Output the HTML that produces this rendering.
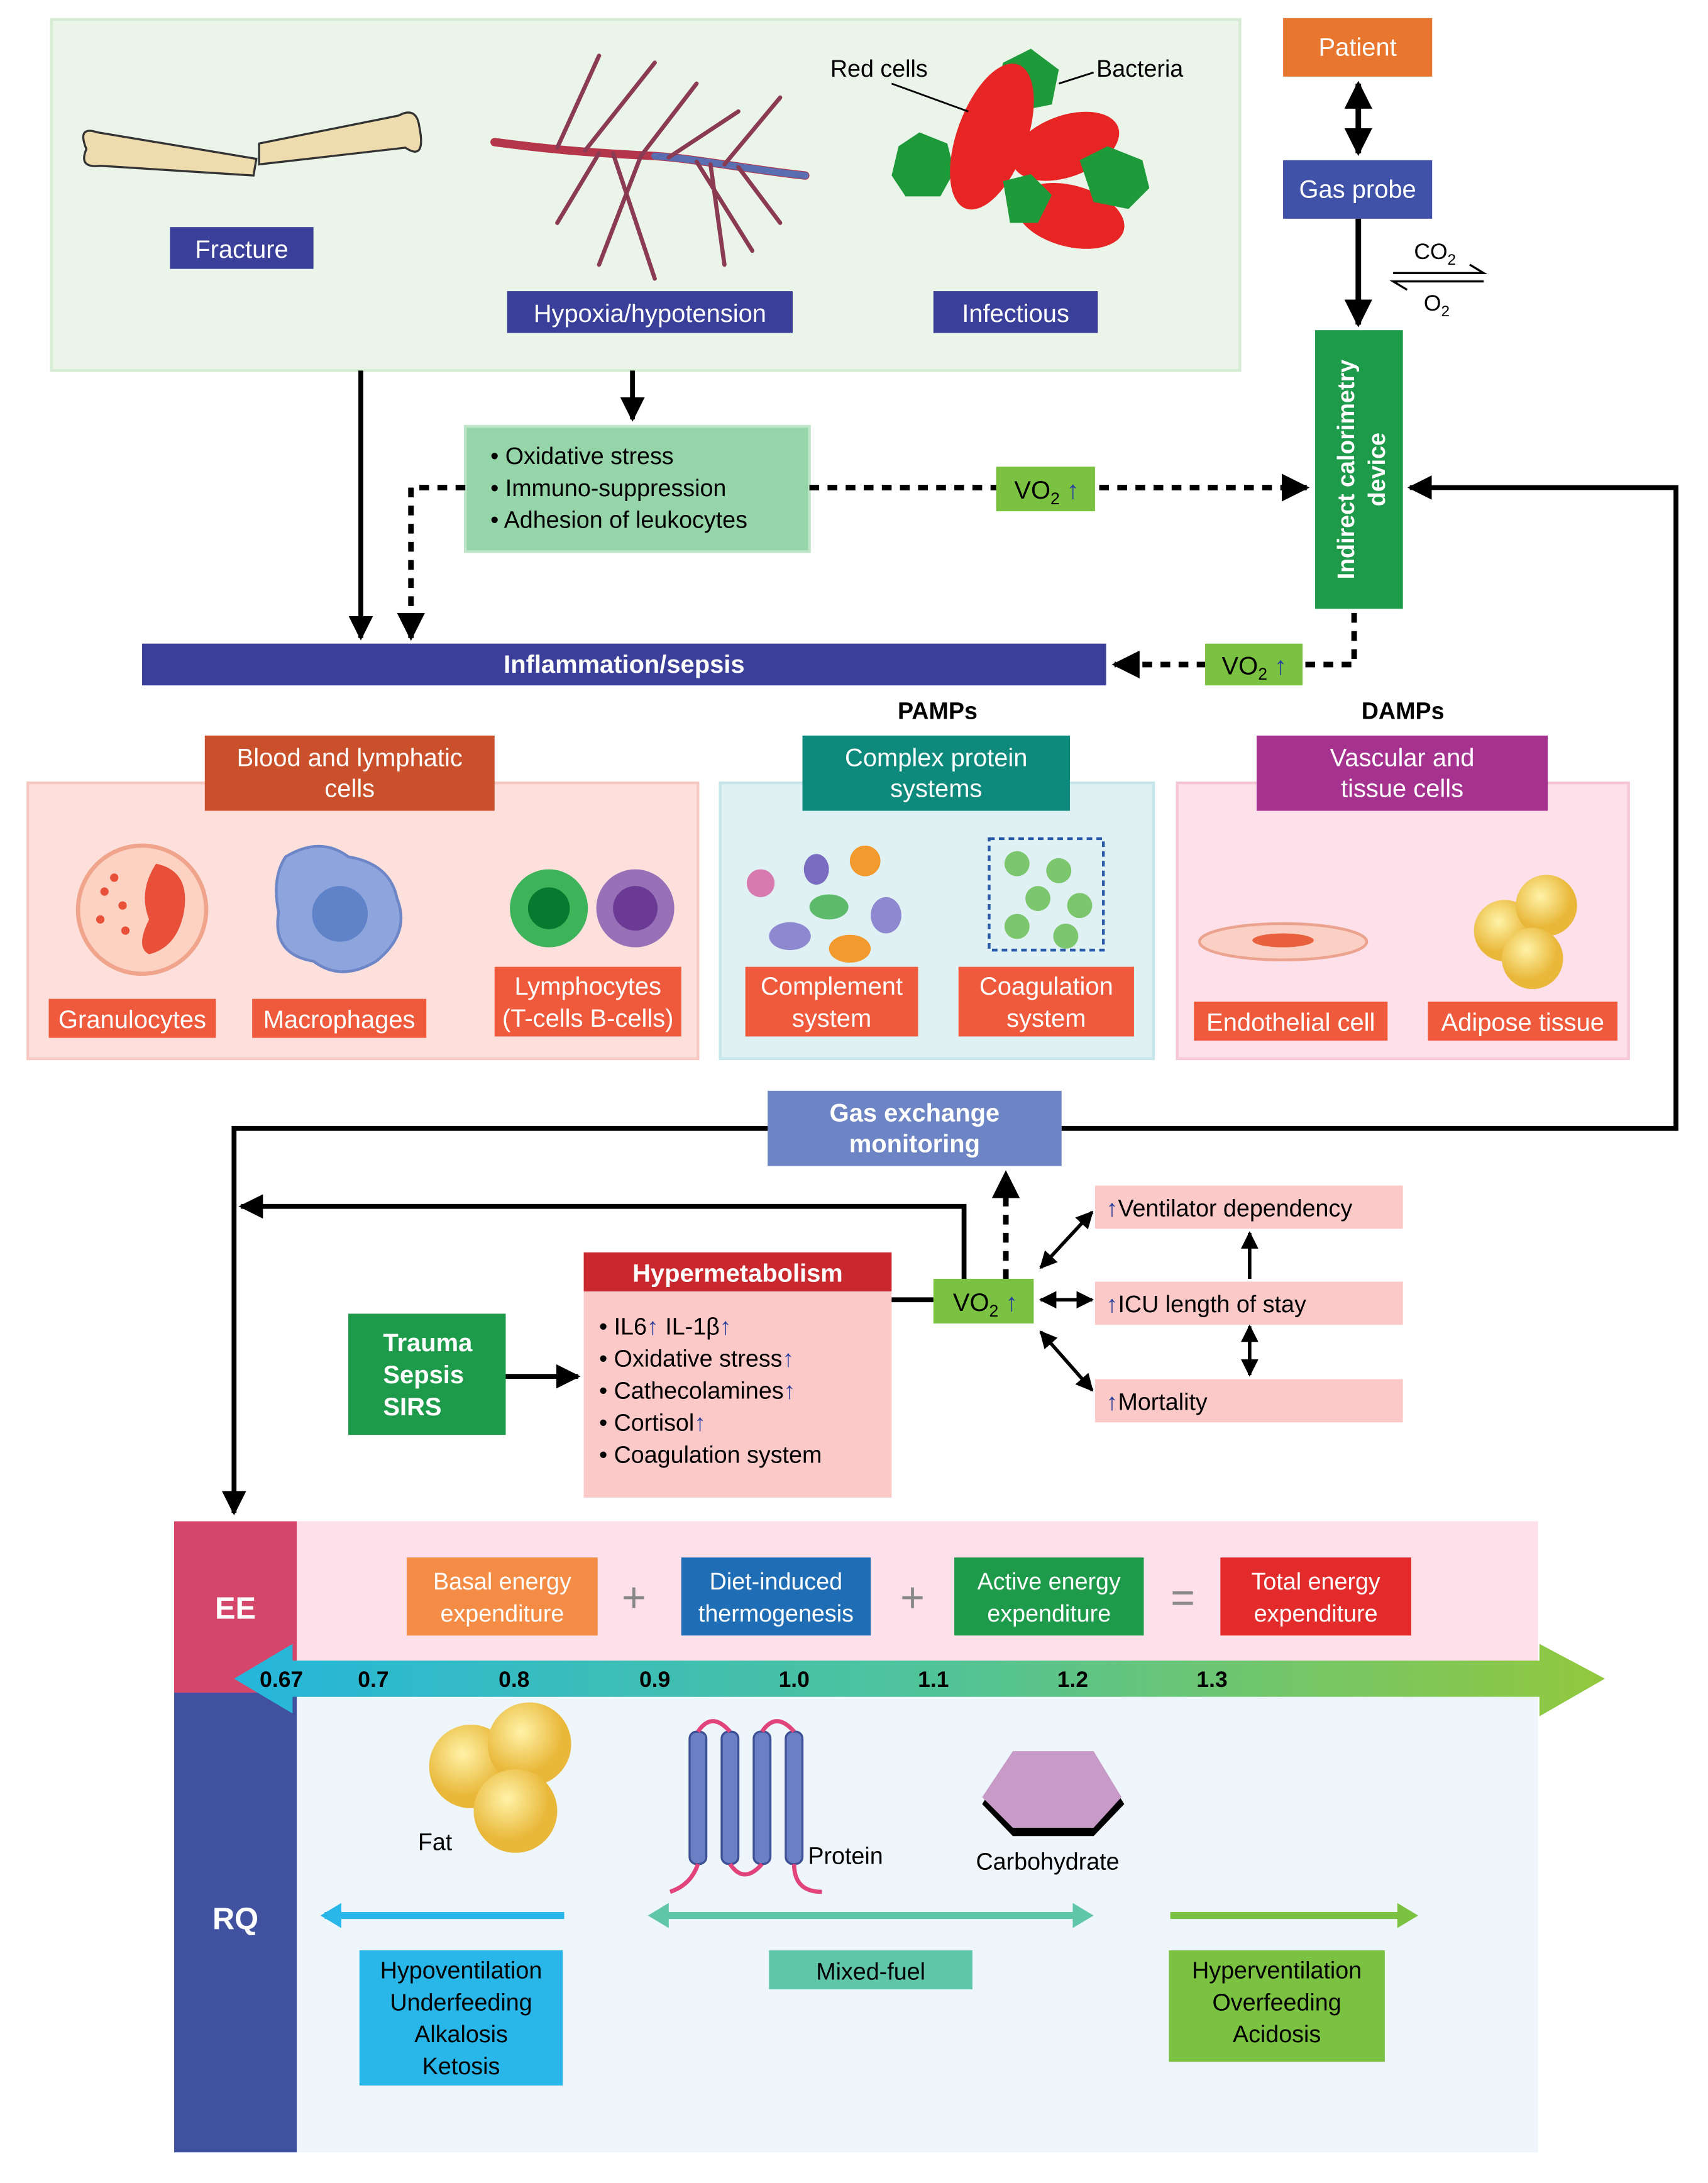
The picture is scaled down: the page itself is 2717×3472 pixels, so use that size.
<!DOCTYPE html>
<html><head><meta charset="utf-8"><style>
html,body{margin:0;padding:0;background:#fff}
svg{display:block}
text{font-family:"Liberation Sans",Arial,sans-serif}
</style></head><body>
<svg width="2717" height="3472" viewBox="0 0 1226 1567" preserveAspectRatio="none" xmlns="http://www.w3.org/2000/svg">
<defs>
<marker id="ah" viewBox="0 0 10 10" refX="9" refY="5" markerWidth="5" markerHeight="5" orient="auto-start-reverse"><path d="M0,0L10,5L0,10z" fill="#000"/></marker>
<linearGradient id="gr" x1="0" x2="1"><stop offset="0" stop-color="#25b6dc"/><stop offset="0.5" stop-color="#4fc39a"/><stop offset="1" stop-color="#92c83e"/></linearGradient>
<radialGradient id="fat" cx="0.4" cy="0.35"><stop offset="0" stop-color="#fff3a8"/><stop offset="1" stop-color="#e9b83a"/></radialGradient>
</defs>
<g font-size="18" fill="#fff">
<!-- top panel -->
<rect x="37" y="14" width="853" height="252" fill="#eaf4e8" stroke="#d6ebd3" stroke-width="2"/>
<!-- bone -->
<g fill="#efdcae" stroke="#333" stroke-width="1.5">
<path d="M70,95 q-15,-5 -8,12 q-6,14 10,12 l110,7 l2,-12 z"/>
<path d="M186,118 l105,-12 q15,10 10,-15 q-2,-15 -15,-8 l-100,20 z"/>
</g>
<rect x="122" y="163" width="103" height="30" fill="#3a3f99"/><text x="173.5" y="185" text-anchor="middle">Fracture</text>
<!-- vessels -->
<g fill="none" stroke-width="3" stroke-linecap="round">
<path d="M355,102 C400,108 430,110 470,112 C500,114 540,122 578,126" stroke="#b5364a" stroke-width="6"/>
<path d="M470,112 C500,114 540,122 578,126" stroke="#5a6db0" stroke-width="5"/>
<path d="M400,106 L430,40 M420,108 L470,45 M440,110 L470,200 M460,112 L500,60 M480,113 L530,80 M500,116 L540,180 M520,118 L560,70 M430,110 L400,160 M460,112 L430,190 M510,118 L520,190 M530,120 L560,160" stroke="#8a3a52"/>
</g>
<rect x="364" y="209" width="205" height="30" fill="#3a3f99"/><text x="466.5" y="231" text-anchor="middle">Hypoxia/hypotension</text>
<!-- cells -->
<g>
<path d="M645,105 l15,-10 l20,8 l5,20 l-10,18 l-25,0 l-10,-15z" fill="#1f9a3a"/>
<path d="M720,45 l20,-10 l20,15 l-5,25 l-25,5 l-15,-15z" fill="#1f9a3a"/>
<ellipse cx="712" cy="98" rx="25" ry="55" transform="rotate(20 712 98)" fill="#e82525"/>
<ellipse cx="765" cy="105" rx="40" ry="22" transform="rotate(-20 765 105)" fill="#e82525"/>
<ellipse cx="768" cy="155" rx="40" ry="22" transform="rotate(15 768 155)" fill="#e82525"/>
<path d="M775,115 l20,-10 l25,10 l5,20 l-15,15 l-25,-5z" fill="#1f9a3a"/>
<path d="M720,130 l20,-5 l15,15 l-10,20 l-20,0z" fill="#1f9a3a"/>
</g>
<g fill="#000" font-size="17"><text x="596" y="55">Red cells</text><text x="787" y="55">Bacteria</text></g>
<path d="M640,60 L695,80 M785,52 L760,60" stroke="#000" stroke-width="1.3"/>
<rect x="670" y="209" width="118" height="30" fill="#3a3f99"/><text x="729" y="231" text-anchor="middle">Infectious</text>
<!-- patient column -->
<rect x="921" y="13" width="107" height="42" fill="#e8762e"/><text x="974.5" y="40" text-anchor="middle">Patient</text>
<line x1="975" y1="60" x2="975" y2="110" stroke="#000" stroke-width="4" marker-start="url(#ah)" marker-end="url(#ah)"/>
<rect x="921" y="115" width="107" height="42" fill="#4052a8"/><text x="974.5" y="142" text-anchor="middle">Gas probe</text>
<line x1="975" y1="157" x2="975" y2="233" stroke="#000" stroke-width="4" marker-end="url(#ah)"/>
<g fill="#000" font-size="16"><text x="1015" y="186">CO<tspan font-size="11" dy="4">2</tspan></text><text x="1022" y="223">O<tspan font-size="11" dy="4">2</tspan></text></g>
<path d="M1000,196 L1065,196 L1055,190 M1065,202 L1000,202 L1010,208" stroke="#000" stroke-width="1.5" fill="none"/>
<rect x="944" y="237" width="63" height="200" fill="#1d9a4a"/>
<text transform="translate(972,337) rotate(-90)" text-anchor="middle" font-weight="bold" font-size="17">Indirect calorimetry</text>
<text transform="translate(994,337) rotate(-90)" text-anchor="middle" font-weight="bold" font-size="17">device</text>
<!-- arrows top -->
<line x1="259" y1="266" x2="259" y2="458" stroke="#000" stroke-width="3.5" marker-end="url(#ah)"/>
<line x1="454" y1="266" x2="454" y2="301" stroke="#000" stroke-width="3.5" marker-end="url(#ah)"/>
<rect x="334" y="306" width="247" height="90" fill="#96d4aa" stroke="#bfe5c8" stroke-width="2"/>
<g fill="#000" font-size="17"><text x="352" y="333">• Oxidative stress</text><text x="352" y="356">• Immuno-suppression</text><text x="352" y="379">• Adhesion of leukocytes</text></g>
<g stroke="#000" stroke-width="4" stroke-dasharray="7,6" fill="none">
<path d="M334,350 L295,350 L295,458" marker-end="url(#ah)"/>
<path d="M581,350 L938,350" marker-end="url(#ah)"/>
<path d="M972,440 L972,477 L800,477" marker-end="url(#ah)"/>
</g>
<rect x="715" y="335" width="71" height="32" fill="#7cc242"/><text x="728" y="358" fill="#000">VO<tspan font-size="12" dy="4">2</tspan><tspan dy="-4" fill="#2a3f9c" font-weight="bold"> ↑</tspan></text>
<path d="M762,810 L1203,810 L1203,350 L1012,350" stroke="#000" stroke-width="3.5" fill="none" marker-end="url(#ah)"/>
<rect x="102" y="462" width="692" height="30" fill="#3b3f99"/><text x="448" y="483" text-anchor="middle" font-weight="bold">Inflammation/sepsis</text>
<rect x="865" y="462" width="70" height="30" fill="#7cc242"/><text x="877" y="484" fill="#000">VO<tspan font-size="12" dy="4">2</tspan><tspan dy="-4" fill="#2a3f9c" font-weight="bold"> ↑</tspan></text>
<g fill="#000" font-weight="bold" font-size="17"><text x="673" y="516" text-anchor="middle">PAMPs</text><text x="1007" y="516" text-anchor="middle">DAMPs</text></g>
<!-- panels -->
<rect x="20" y="562" width="481" height="198" fill="#fde0dc" stroke="#f7c9c2" stroke-width="2"/>
<rect x="147" y="528" width="208" height="54" fill="#c9502a"/><text x="251" y="550" text-anchor="middle">Blood and lymphatic</text><text x="251" y="572" text-anchor="middle">cells</text>
<circle cx="102" cy="653" r="46" fill="#fcd3c3" stroke="#f0a48c" stroke-width="3"/>
<path d="M112,620 q25,5 20,35 q-5,25 -25,30 q-10,-5 0,-25 q-8,-20 5,-40z" fill="#e9503a"/>
<g fill="#e9503a"><circle cx="75" cy="640" r="3"/><circle cx="88" cy="650" r="3"/><circle cx="72" cy="660" r="3"/><circle cx="90" cy="668" r="3"/><circle cx="82" cy="630" r="3"/></g>
<path d="M205,615 q25,-15 45,0 q30,5 35,30 q10,25 -15,45 q-25,15 -45,0 q-30,-5 -25,-35 q-5,-25 5,-40z" fill="#8ea4dc" stroke="#6d86c8" stroke-width="2"/>
<circle cx="244" cy="656" r="20" fill="#5f82c8"/>
<circle cx="394" cy="652" r="28" fill="#3db35a"/><circle cx="394" cy="652" r="15" fill="#087a30"/>
<circle cx="456" cy="652" r="28" fill="#9770b8"/><circle cx="456" cy="652" r="16" fill="#6b3a95"/>
<rect x="35" y="717" width="120" height="28" fill="#ef5a3c"/><text x="95" y="738" text-anchor="middle">Granulocytes</text>
<rect x="181" y="717" width="125" height="28" fill="#ef5a3c"/><text x="243.5" y="738" text-anchor="middle">Macrophages</text>
<rect x="355" y="694" width="134" height="50" fill="#ef5a3c"/><text x="422" y="714" text-anchor="middle">Lymphocytes</text><text x="422" y="737" text-anchor="middle">(T-cells B-cells)</text>

<rect x="517" y="562" width="311" height="198" fill="#e0f1f4" stroke="#c6e6ea" stroke-width="2"/>
<rect x="576" y="528" width="192" height="54" fill="#0e8a7c"/><text x="672" y="550" text-anchor="middle">Complex protein</text><text x="672" y="572" text-anchor="middle">systems</text>
<circle cx="546" cy="634" r="10" fill="#d67ab0"/><ellipse cx="586" cy="624" rx="9" ry="11" fill="#7a6cc0"/><ellipse cx="621" cy="618" rx="11" ry="11" fill="#f29a2e"/>
<ellipse cx="595" cy="651" rx="14" ry="9" fill="#5cba6a"/><ellipse cx="567" cy="672" rx="15" ry="10" fill="#8d88d0"/><ellipse cx="636" cy="657" rx="11" ry="13" fill="#8d88d0"/><ellipse cx="610" cy="681" rx="15" ry="10" fill="#f29a2e"/>
<rect x="710" y="602" width="82" height="80" fill="none" stroke="#2b5aa8" stroke-width="2" stroke-dasharray="4,3"/>
<g fill="#7cc66e"><circle cx="730" cy="620" r="9"/><circle cx="760" cy="625" r="9"/><circle cx="745" cy="645" r="9"/><circle cx="775" cy="650" r="9"/><circle cx="730" cy="665" r="9"/><circle cx="765" cy="672" r="9"/></g>
<rect x="535" y="694" width="124" height="50" fill="#ef5a3c"/><text x="597" y="714" text-anchor="middle">Complement</text><text x="597" y="737" text-anchor="middle">system</text>
<rect x="688" y="694" width="126" height="50" fill="#ef5a3c"/><text x="751" y="714" text-anchor="middle">Coagulation</text><text x="751" y="737" text-anchor="middle">system</text>

<rect x="845" y="562" width="324" height="198" fill="#fde0e9" stroke="#f6c8d6" stroke-width="2"/>
<rect x="902" y="528" width="209" height="54" fill="#a5328f"/><text x="1006.5" y="550" text-anchor="middle">Vascular and</text><text x="1006.5" y="572" text-anchor="middle">tissue cells</text>
<ellipse cx="921" cy="676" rx="60" ry="13" fill="#fbd0c4" stroke="#eba28e" stroke-width="2"/><ellipse cx="921" cy="675" rx="22" ry="5" fill="#e9603c"/>
<circle cx="1080" cy="668" r="22" fill="url(#fat)"/><circle cx="1110" cy="650" r="22" fill="url(#fat)"/><circle cx="1100" cy="688" r="22" fill="url(#fat)"/>
<rect x="857" y="719" width="139" height="28" fill="#ef5a3c"/><text x="926.5" y="740" text-anchor="middle">Endothelial cell</text>
<rect x="1025" y="719" width="136" height="28" fill="#ef5a3c"/><text x="1093" y="740" text-anchor="middle">Adipose tissue</text>
<!-- gas exchange -->
<rect x="551" y="783" width="211" height="54" fill="#6e85c5"/><text x="656.5" y="805" text-anchor="middle" font-weight="bold">Gas exchange</text><text x="656.5" y="827" text-anchor="middle" font-weight="bold">monitoring</text>
<path d="M551,810 L168,810 L168,1086" stroke="#000" stroke-width="3.5" fill="none" marker-end="url(#ah)"/>
<path d="M692,918 L692,866 L173,866" stroke="#000" stroke-width="3.5" fill="none" marker-end="url(#ah)"/>
<line x1="722" y1="918" x2="722" y2="842" stroke="#000" stroke-width="4" stroke-dasharray="7,6" marker-end="url(#ah)"/>
<rect x="419" y="899" width="221" height="28" fill="#c8282e"/><text x="529.5" y="920" text-anchor="middle" font-weight="bold">Hypermetabolism</text>
<rect x="419" y="927" width="221" height="148" fill="#fcc9c9"/>
<g fill="#000" font-size="17"><text x="430" y="958">•  IL6<tspan fill="#2a3f9c" font-weight="bold">↑</tspan> IL-1β<tspan fill="#2a3f9c" font-weight="bold">↑</tspan></text><text x="430" y="981">•  Oxidative stress<tspan fill="#2a3f9c" font-weight="bold">↑</tspan></text><text x="430" y="1004">•  Cathecolamines<tspan fill="#2a3f9c" font-weight="bold">↑</tspan></text><text x="430" y="1027">•  Cortisol<tspan fill="#2a3f9c" font-weight="bold">↑</tspan></text><text x="430" y="1050">•  Coagulation system</text></g>
<rect x="250" y="943" width="113" height="87" fill="#1d9a4a"/>
<g font-weight="bold"><text x="275" y="970">Trauma</text><text x="275" y="993">Sepsis</text><text x="275" y="1016">SIRS</text></g>
<line x1="363" y1="988" x2="415" y2="988" stroke="#000" stroke-width="3.5" marker-end="url(#ah)"/>
<line x1="640" y1="933" x2="670" y2="933" stroke="#000" stroke-width="3.5"/>
<rect x="670" y="918" width="72" height="32" fill="#7cc242"/><text x="684" y="941" fill="#000">VO<tspan font-size="12" dy="4">2</tspan><tspan dy="-4" fill="#2a3f9c" font-weight="bold"> ↑</tspan></text>
<g stroke="#000" stroke-width="2.5" marker-start="url(#ah)" marker-end="url(#ah)">
<line x1="747" y1="910" x2="784" y2="870"/><line x1="747" y1="933" x2="784" y2="933"/><line x1="747" y1="956" x2="784" y2="998"/>
<line x1="897" y1="952" x2="897" y2="987"/></g>
<line x1="897" y1="918" x2="897" y2="885" stroke="#000" stroke-width="2.5" marker-end="url(#ah)"/>
<g font-size="17" fill="#000">
<rect x="786" y="851" width="221" height="31" fill="#fcc9c9"/><text x="794" y="873"><tspan fill="#2a3f9c" font-weight="bold">↑</tspan>Ventilator dependency</text>
<rect x="786" y="920" width="221" height="31" fill="#fcc9c9"/><text x="794" y="942"><tspan fill="#2a3f9c" font-weight="bold">↑</tspan>ICU length of stay</text>
<rect x="786" y="990" width="221" height="31" fill="#fcc9c9"/><text x="794" y="1012"><tspan fill="#2a3f9c" font-weight="bold">↑</tspan>Mortality</text>
</g>
<!-- bottom -->
<rect x="213" y="1092" width="891" height="123" fill="#fde0ea"/>
<rect x="213" y="1215" width="891" height="330" fill="#eef6fb"/>
<rect x="125" y="1092" width="88" height="123" fill="#d6456a"/><text x="169" y="1162" text-anchor="middle" font-weight="bold" font-size="22">EE</text>
<rect x="125" y="1215" width="88" height="330" fill="#40529f"/><text x="169" y="1385" text-anchor="middle" font-weight="bold" font-size="22">RQ</text>
<g font-size="17">
<rect x="292" y="1118" width="137" height="56" fill="#f48c45"/><text x="360.5" y="1141" text-anchor="middle">Basal energy</text><text x="360.5" y="1164" text-anchor="middle">expenditure</text>
<rect x="489" y="1118" width="136" height="56" fill="#1f6db5"/><text x="557" y="1141" text-anchor="middle">Diet-induced</text><text x="557" y="1164" text-anchor="middle">thermogenesis</text>
<rect x="685" y="1118" width="136" height="56" fill="#1d9a4a"/><text x="753" y="1141" text-anchor="middle">Active energy</text><text x="753" y="1164" text-anchor="middle">expenditure</text>
<rect x="876" y="1118" width="137" height="56" fill="#e32b2b"/><text x="944.5" y="1141" text-anchor="middle">Total energy</text><text x="944.5" y="1164" text-anchor="middle">expenditure</text>
</g>
<g fill="#888" font-size="30"><text x="455" y="1157" text-anchor="middle">+</text><text x="655" y="1157" text-anchor="middle">+</text><text x="849" y="1157" text-anchor="middle">=</text></g>
<path d="M168,1205 L210,1180 L210,1192 L1105,1192 L1105,1180 L1152,1205 L1105,1232 L1105,1218 L210,1218 L210,1230 Z" fill="url(#gr)"/>
<g fill="#000" font-weight="bold" font-size="16" text-anchor="middle"><text x="202" y="1211">0.67</text><text x="268" y="1211">0.7</text><text x="369" y="1211">0.8</text><text x="470" y="1211">0.9</text><text x="570" y="1211">1.0</text><text x="670" y="1211">1.1</text><text x="770" y="1211">1.2</text><text x="870" y="1211">1.3</text></g>
<circle cx="338" cy="1268" r="30" fill="url(#fat)"/><circle cx="380" cy="1252" r="30" fill="url(#fat)"/><circle cx="370" cy="1300" r="30" fill="url(#fat)"/>
<g fill="#000" font-size="17"><text x="300" y="1328">Fat</text><text x="580" y="1338">Protein</text><text x="752" y="1342" text-anchor="middle">Carbohydrate</text></g>
<g fill="#6a7fc4" stroke="#3d4f95" stroke-width="1.5"><rect x="495" y="1243" width="12" height="95" rx="5"/><rect x="518" y="1243" width="12" height="95" rx="5"/><rect x="541" y="1243" width="12" height="95" rx="5"/><rect x="564" y="1243" width="12" height="95" rx="5"/></g>
<path d="M501,1243 q10,-15 23,0 M547,1243 q10,-15 23,0 M524,1338 q10,15 23,0 M501,1338 q-5,15 -20,20 M570,1338 q0,20 20,20" stroke="#e0447a" stroke-width="3" fill="none"/>
<polygon points="705,1295 727,1260 785,1260 807,1295 785,1318 727,1318" fill="#000"/>
<polygon points="705,1290 727,1257 785,1257 805,1290 785,1312 727,1312" fill="#c89ac8"/>
<line x1="405" y1="1375" x2="233" y2="1375" stroke="#29b6e8" stroke-width="5" marker-end="url(#ahc)"/>
<path d="M230,1375 L245,1366 L245,1384Z" fill="#29b6e8"/>
<line x1="478" y1="1375" x2="772" y2="1375" stroke="#5fc6a8" stroke-width="5"/>
<path d="M465,1375 L480,1366 L480,1384Z M785,1375 L770,1366 L770,1384Z" fill="#5fc6a8"/>
<line x1="840" y1="1375" x2="1005" y2="1375" stroke="#7cc242" stroke-width="5"/>
<path d="M1018,1375 L1003,1366 L1003,1384Z" fill="#7cc242"/>
<g fill="#000" font-size="17" text-anchor="middle">
<rect x="258" y="1400" width="146" height="97" fill="#29b6e8"/><text x="331" y="1420">Hypoventilation</text><text x="331" y="1443">Underfeeding</text><text x="331" y="1466">Alkalosis</text><text x="331" y="1489">Ketosis</text>
<rect x="552" y="1400" width="146" height="28" fill="#5fc6a8"/><text x="625" y="1421">Mixed-fuel</text>
<rect x="839" y="1400" width="155" height="80" fill="#7cc242"/><text x="916.5" y="1420">Hyperventilation</text><text x="916.5" y="1443">Overfeeding</text><text x="916.5" y="1466">Acidosis</text>
</g>
</g>
</svg>
</body></html>
